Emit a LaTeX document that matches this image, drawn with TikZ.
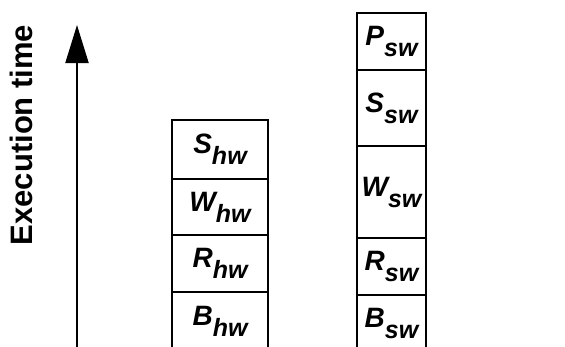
\documentclass[tikz,border=0pt]{standalone}
\usepackage{fontspec}
\setmainfont{Liberation Sans}
\usetikzlibrary{arrows.meta}
\newcommand{\lbl}[2]{{\fontsize{28}{28}\selectfont\bfseries\itshape #1\raisebox{-11pt}{\fontsize{25}{25}\selectfont #2}}}
\begin{document}
\begin{tikzpicture}[x=1pt,y=-1pt,
  blk/.style={draw,line width=2pt,inner sep=0pt,anchor=north west}]
\useasboundingbox (0,0) rectangle (565,346);
\clip (0,0) rectangle (565,346);
% left stack (hardware)
\node[blk,minimum width=96pt,minimum height=59pt] (shw) at (171,119) {\lbl{S}{hw}};
\node[blk,minimum width=96pt,minimum height=56pt] (whw) at (171,178) {\lbl{W}{hw}};
\node[blk,minimum width=96pt,minimum height=57pt] (rhw) at (171,234) {\lbl{R}{hw}};
\node[blk,minimum width=96pt,minimum height=59pt] (bhw) at (171,291) {\raisebox{8pt}{\lbl{B}{hw}}};
% right stack (software)
\node[blk,minimum width=69pt,minimum height=57pt] (psw) at (356,12) {\lbl{P}{sw}};
\node[blk,minimum width=69pt,minimum height=76pt] (ssw) at (356,69) {\lbl{S}{sw}};
\node[blk,minimum width=69pt,minimum height=92pt] (wsw) at (356,145) {\lbl{W}{sw}};
\node[blk,minimum width=69pt,minimum height=57pt] (rsw) at (356,237) {\lbl{R}{sw}};
\node[blk,minimum width=69pt,minimum height=56pt] (bsw) at (356,294) {\raisebox{9pt}{\lbl{B}{sw}}};
% axis
\coordinate (abot) at (77,350);
\coordinate (atop) at (77,25);
\draw[line width=2pt,-{Triangle[length=38pt,width=23pt]}] (abot) -- (atop);
\node[rotate=90,font=\fontsize{31}{31}\selectfont\bfseries] (lab) at (21,135) {Execution time};
\end{tikzpicture}
\end{document}
